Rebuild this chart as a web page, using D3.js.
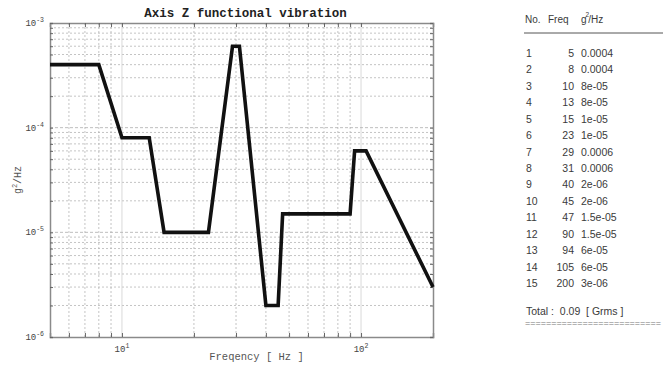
<!DOCTYPE html>
<html><head><meta charset="utf-8">
<script src="https://cdn.jsdelivr.net/npm/d3@7"></script>
<style>body{margin:0;background:#fff;}svg{display:block;}</style>
</head><body>
<svg id="c" width="663" height="369"></svg>
<script>
const freqs = [5, 8, 10, 13, 15, 23, 29, 31, 40, 45, 47, 90, 94, 105, 200];
const psd = [0.0004, 0.0004, 8e-5, 8e-5, 1e-5, 1e-5, 0.0006, 0.0006, 2e-6, 2e-6, 1.5e-5, 1.5e-5, 6e-5, 6e-5, 3e-6];
const psdLabels = ["0.0004","0.0004","8e-05","8e-05","1e-05","1e-05","0.0006","0.0006","2e-06","2e-06","1.5e-05","1.5e-05","6e-05","6e-05","3e-06"];
const xMajor = [10, 100];
const yMajor = [1e-6, 1e-5, 1e-4, 1e-3];
const xMinor = [6,7,8,9,20,30,40,50,60,70,80,90];
const yMinor = [];
[1e-6,1e-5,1e-4].forEach(d=>{for(let k=2;k<=9;k++) yMinor.push(k*d);});
const title = "Axis Z functional vibration";
const totalText = "Total :  0.09  [ Grms ]";

const svg = d3.select("#c");
const L=50,R=433,T=23,B=337;
const x = d3.scaleLog().domain([5,200]).range([L,R]);
const y = d3.scaleLog().domain([1e-6,1e-3]).range([B,T]);
const mono = "'Liberation Mono','DejaVu Sans Mono',monospace";

// grid
const g = svg.append("g");
g.selectAll(".xm").data(xMinor).join("line")
  .attr("x1",d=>x(d)).attr("x2",d=>x(d)).attr("y1",T).attr("y2",B)
  .attr("stroke","#b5b5b5").attr("stroke-width",0.8).attr("stroke-dasharray","2,2");
g.selectAll(".ym").data(yMinor).join("line")
  .attr("y1",d=>y(d)).attr("y2",d=>y(d)).attr("x1",L).attr("x2",R)
  .attr("stroke","#b5b5b5").attr("stroke-width",0.8).attr("stroke-dasharray","2,2");
g.selectAll(".xM").data(xMajor).join("line")
  .attr("x1",d=>x(d)).attr("x2",d=>x(d)).attr("y1",T).attr("y2",B)
  .attr("stroke","#cfcfcf").attr("stroke-width",0.8);
g.selectAll(".yM").data(yMajor.slice(1,3)).join("line")
  .attr("y1",d=>y(d)).attr("y2",d=>y(d)).attr("x1",L).attr("x2",R)
  .attr("stroke","#adadad").attr("stroke-width",0.8).attr("stroke-dasharray","3,2");

// axes (ticks inside)
const xAxB = d3.axisBottom(x).tickValues(xMinor.concat(xMajor)).tickSize(-4).tickFormat("");
const xAxT = d3.axisTop(x).tickValues(xMinor.concat(xMajor)).tickSize(-4).tickFormat("");
const yAxL = d3.axisLeft(y).tickValues(yMinor.concat(yMajor)).tickSize(-3).tickFormat("");
const yAxR = d3.axisRight(y).tickValues(yMinor.concat(yMajor)).tickSize(-3).tickFormat("");
[[xAxB,`translate(0,${B})`],[xAxT,`translate(0,${T})`],[yAxL,`translate(${L},0)`],[yAxR,`translate(${R},0)`]].forEach(([a,t])=>{
  const ax = svg.append("g").attr("transform",t).call(a);
  ax.select(".domain").attr("stroke","#8a8a8a").attr("stroke-width",1.5);
  ax.selectAll(".tick line").attr("stroke","#666");
});

// tick labels
const yl = svg.append("g");
yMajor.forEach(v=>{
  const e = Math.round(Math.log10(v));
  const t = yl.append("text").attr("x",L-6).attr("y",y(v)+3).attr("text-anchor","end")
    .attr("font-family",mono).attr("font-size",9).attr("fill","#444");
  t.append("tspan").text("10");
  t.append("tspan").attr("dy",-4).attr("font-size",6.5).text(e);
});
xMajor.forEach(v=>{
  const e = Math.round(Math.log10(v));
  const t = svg.append("text").attr("x",x(v)).attr("y",B+15).attr("text-anchor","middle")
    .attr("font-family",mono).attr("font-size",9).attr("fill","#444");
  t.append("tspan").text("10");
  t.append("tspan").attr("dy",-4).attr("font-size",6.5).text(e);
});

// titles
svg.append("text").attr("x",(L+R)/2+4).attr("y",17).attr("text-anchor","middle")
  .attr("font-family",mono).attr("font-weight","bold").attr("font-size",12.5).attr("fill","#222").text(title);
svg.append("text").attr("x",(L+R)/2+15).attr("y",360).attr("text-anchor","middle")
  .attr("font-family",mono).attr("font-size",10.5).attr("fill","#555").text("Freqency [ Hz ]");
const ylab = svg.append("text").attr("transform",`translate(21,${(T+B)/2}) rotate(-90)`).attr("text-anchor","middle")
  .attr("font-family",mono).attr("font-size",10).attr("fill","#555");
ylab.append("tspan").text("g");
ylab.append("tspan").attr("dy",-4).attr("font-size",7).text("2");
ylab.append("tspan").attr("dy",4).text("/Hz");

// line
const line = d3.line().x((d,i)=>x(freqs[i])).y(d=>y(d));
svg.append("path").datum(psd).attr("d",line).attr("fill","none")
  .attr("stroke","#111").attr("stroke-width",3.6).attr("stroke-linejoin","miter");

// table
const sans = "'Liberation Sans',Arial,sans-serif";
const tb = svg.append("g").attr("font-family",sans).attr("font-size",10.5).attr("fill","#3a3a3a");
tb.append("text").attr("x",525).attr("y",23).attr("font-size",10).text("No.");
tb.append("text").attr("x",548).attr("y",23).attr("font-size",10).text("Freq");
const hh = tb.append("text").attr("x",581).attr("y",23).attr("font-size",10);
hh.append("tspan").text("g");
hh.append("tspan").attr("dx",-1).attr("dy",-6).attr("font-size",6.5).text("2");
hh.append("tspan").attr("dx",-1).attr("dy",6).text("/Hz");
tb.append("line").attr("x1",524).attr("x2",663).attr("y1",33).attr("y2",33).attr("stroke","#555").attr("stroke-width",1);
const rowY = d3.scaleLinear().domain([0,14]).range([57,287]);
freqs.forEach((f,i)=>{
  tb.append("text").attr("x",526).attr("y",rowY(i)).text(i+1);
  tb.append("text").attr("x",574).attr("y",rowY(i)).attr("text-anchor","end").text(f);
  tb.append("text").attr("x",581).attr("y",rowY(i)).text(psdLabels[i]);
});
tb.append("text").attr("x",526).attr("y",315).attr("xml:space","preserve")
  .style("white-space","pre").text(totalText.replace(/ /g,"\u00a0"));
tb.append("text").attr("x",525).attr("y",326).attr("font-size",9).attr("fill","#777")
  .attr("textLength",136).attr("lengthAdjust","spacingAndGlyphs").text("=".repeat(26));
</script>
</body></html>
